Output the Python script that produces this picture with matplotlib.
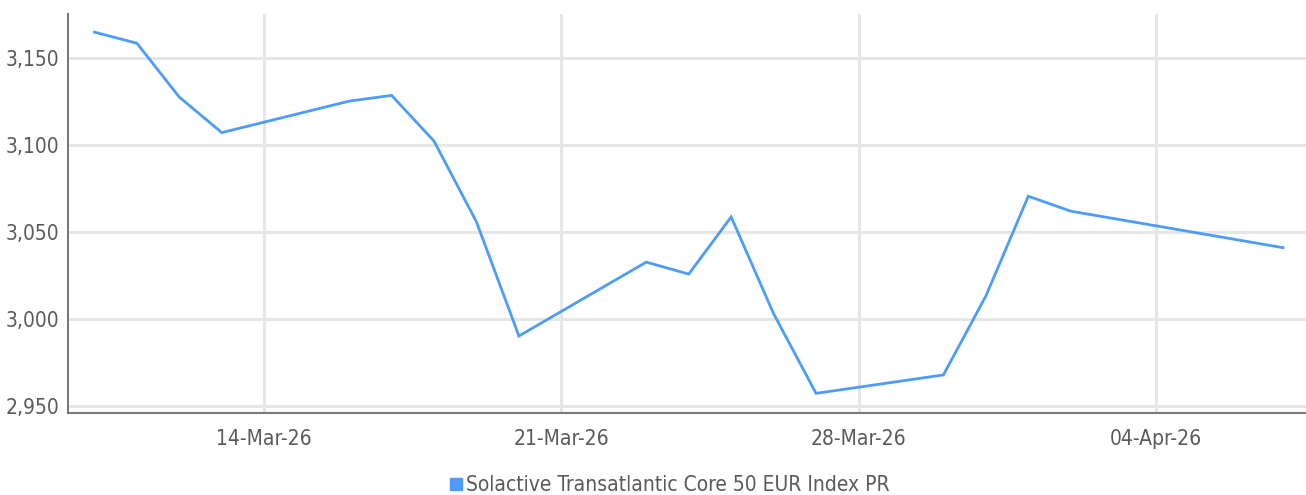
import pandas as pd
import matplotlib.pyplot as plt
import matplotlib.dates as mdates
from matplotlib.ticker import FuncFormatter
from matplotlib.lines import Line2D

plt.rcParams['font.family'] = ['DejaVu Sans']
plt.rcParams['font.stretch'] = 'condensed'

# Index levels (weekends / holidays skipped)
dates = ['2026-03-10', '2026-03-11', '2026-03-12', '2026-03-13',
         '2026-03-16', '2026-03-17', '2026-03-18', '2026-03-19', '2026-03-20',
         '2026-03-23', '2026-03-24', '2026-03-25', '2026-03-26', '2026-03-27',
         '2026-03-30', '2026-03-31', '2026-04-01', '2026-04-02', '2026-04-07']
values = [3165.0, 3158.6, 3127.6, 3107.2,
          3125.3, 3128.6, 3102.3, 3055.8, 2990.2,
          3032.7, 3025.8, 3058.7, 3003.0, 2957.2,
          2967.8, 3013.2, 3070.6, 3062.0, 3041.0]
series_name = 'Solactive Transatlantic Core 50 EUR Index PR'
tick_dates = ['2026-03-14', '2026-03-21', '2026-03-28', '2026-04-04']
y_ticks = [2950, 3000, 3050, 3100, 3150]

line_color = '#4d9cf8'
grid_color = '#e6e6e6'
text_color = '#5a5a5a'

x = pd.to_datetime(dates)

fig = plt.figure(figsize=(13.06, 4.95), dpi=100)
ax = fig.add_axes([0.052, 0.166, 0.948, 0.806])

ax.plot(x, values, color=line_color, linewidth=2.0, solid_joinstyle='miter')

ax.set_xlim(pd.Timestamp('2026-03-10') - pd.Timedelta(hours=15),
            pd.Timestamp('2026-04-07') + pd.Timedelta(hours=13))
ax.set_ylim(2946, 3175.5)

ax.set_xticks(pd.to_datetime(tick_dates))
ax.xaxis.set_major_formatter(mdates.DateFormatter('%d-%b-%y'))
ax.set_yticks(y_ticks)
ax.yaxis.set_major_formatter(FuncFormatter(lambda v, p: f'{v:,.0f}'))

ax.grid(True, color=grid_color, linewidth=2.2)
ax.set_axisbelow(True)
ax.tick_params(length=0, labelsize=15, colors=text_color, pad=6)
ax.tick_params(axis='x', pad=12)

for s in ['top', 'right']:
    ax.spines[s].set_visible(False)
for s in ['left', 'bottom']:
    ax.spines[s].set_color('#7a7a7a')
    ax.spines[s].set_linewidth(1.5)

handle = Line2D([], [], marker='s', linestyle='none', markersize=8,
                markerfacecolor=line_color, markeredgecolor=line_color)
fig.legend([handle], [series_name], loc='lower center', bbox_to_anchor=(0.512, -0.038),
           frameon=False, fontsize=15, labelcolor=text_color,
           handletextpad=0.1, handlelength=0.8)

fig.savefig('out.png', dpi=100)
